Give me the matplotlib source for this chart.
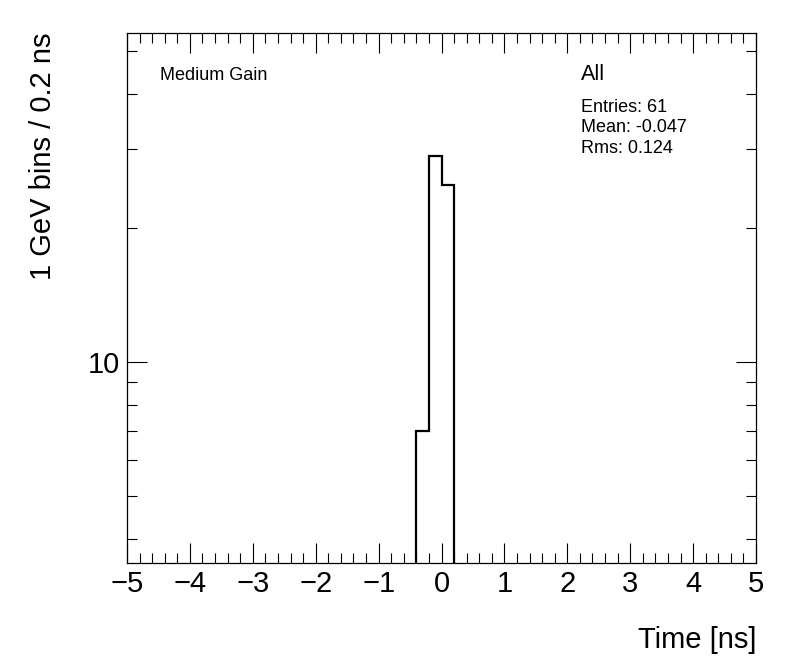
import matplotlib
matplotlib.use("Agg")
import matplotlib.pyplot as plt
from matplotlib.ticker import MultipleLocator, LogLocator, NullFormatter, FixedLocator, FixedFormatter

plt.rcParams["font.family"] = ["Liberation Sans", "DejaVu Sans"]

# histogram: 0.2 ns bins, only the filled bins are listed
bin_edges = [-0.4, -0.2, 0.0, 0.2]
counts = [7, 29, 25]

x_range = (-5, 5)
y_range = (3.53, 54.8)

label_left = "Medium Gain"
label_title = "All"
stats = ["Entries: 61", "Mean: -0.047", "Rms: 0.124"]

fig = plt.figure(figsize=(7.96, 6.72), dpi=100)
ax = fig.add_axes([127 / 796, 1 - 563 / 672, (756 - 127) / 796, (563 - 33) / 672])

ax.stairs(counts, bin_edges, baseline=1e-3, color="black", linewidth=1.6)

ax.set_yscale("log")
ax.set_xlim(*x_range)
ax.set_ylim(*y_range)

ax.xaxis.set_major_locator(MultipleLocator(1))
ax.xaxis.set_minor_locator(MultipleLocator(0.2))
ax.yaxis.set_major_locator(FixedLocator([10]))
ax.yaxis.set_major_formatter(FixedFormatter(["10"]))
ax.yaxis.set_minor_locator(LogLocator(base=10, subs=range(2, 10)))
ax.yaxis.set_minor_formatter(NullFormatter())

ax.tick_params(which="both", direction="in", top=True, right=True, labelsize=21, width=0.8)
ax.tick_params(which="major", length=14.5, pad=5)
ax.tick_params(which="minor", length=7)
for s in ax.spines.values():
    s.set_linewidth(0.9)

ax.set_xlabel("Time [ns]", fontsize=21, loc="right", labelpad=20)
ax.set_ylabel("1 GeV bins / 0.2 ns", fontsize=21, loc="top", labelpad=22)

ax.text(160 / 796, 1 - 80 / 672, label_left, transform=fig.transFigure, fontsize=13, va="baseline")
ax.text(581 / 796, 1 - 80 / 672, label_title, transform=fig.transFigure, fontsize=15.5, va="baseline")
for i, line in enumerate(stats):
    ax.text(581 / 796, 1 - (112 + 20.5 * i) / 672, line, transform=fig.transFigure,
            fontsize=13, va="baseline")

fig.savefig("out.png", dpi=100)
